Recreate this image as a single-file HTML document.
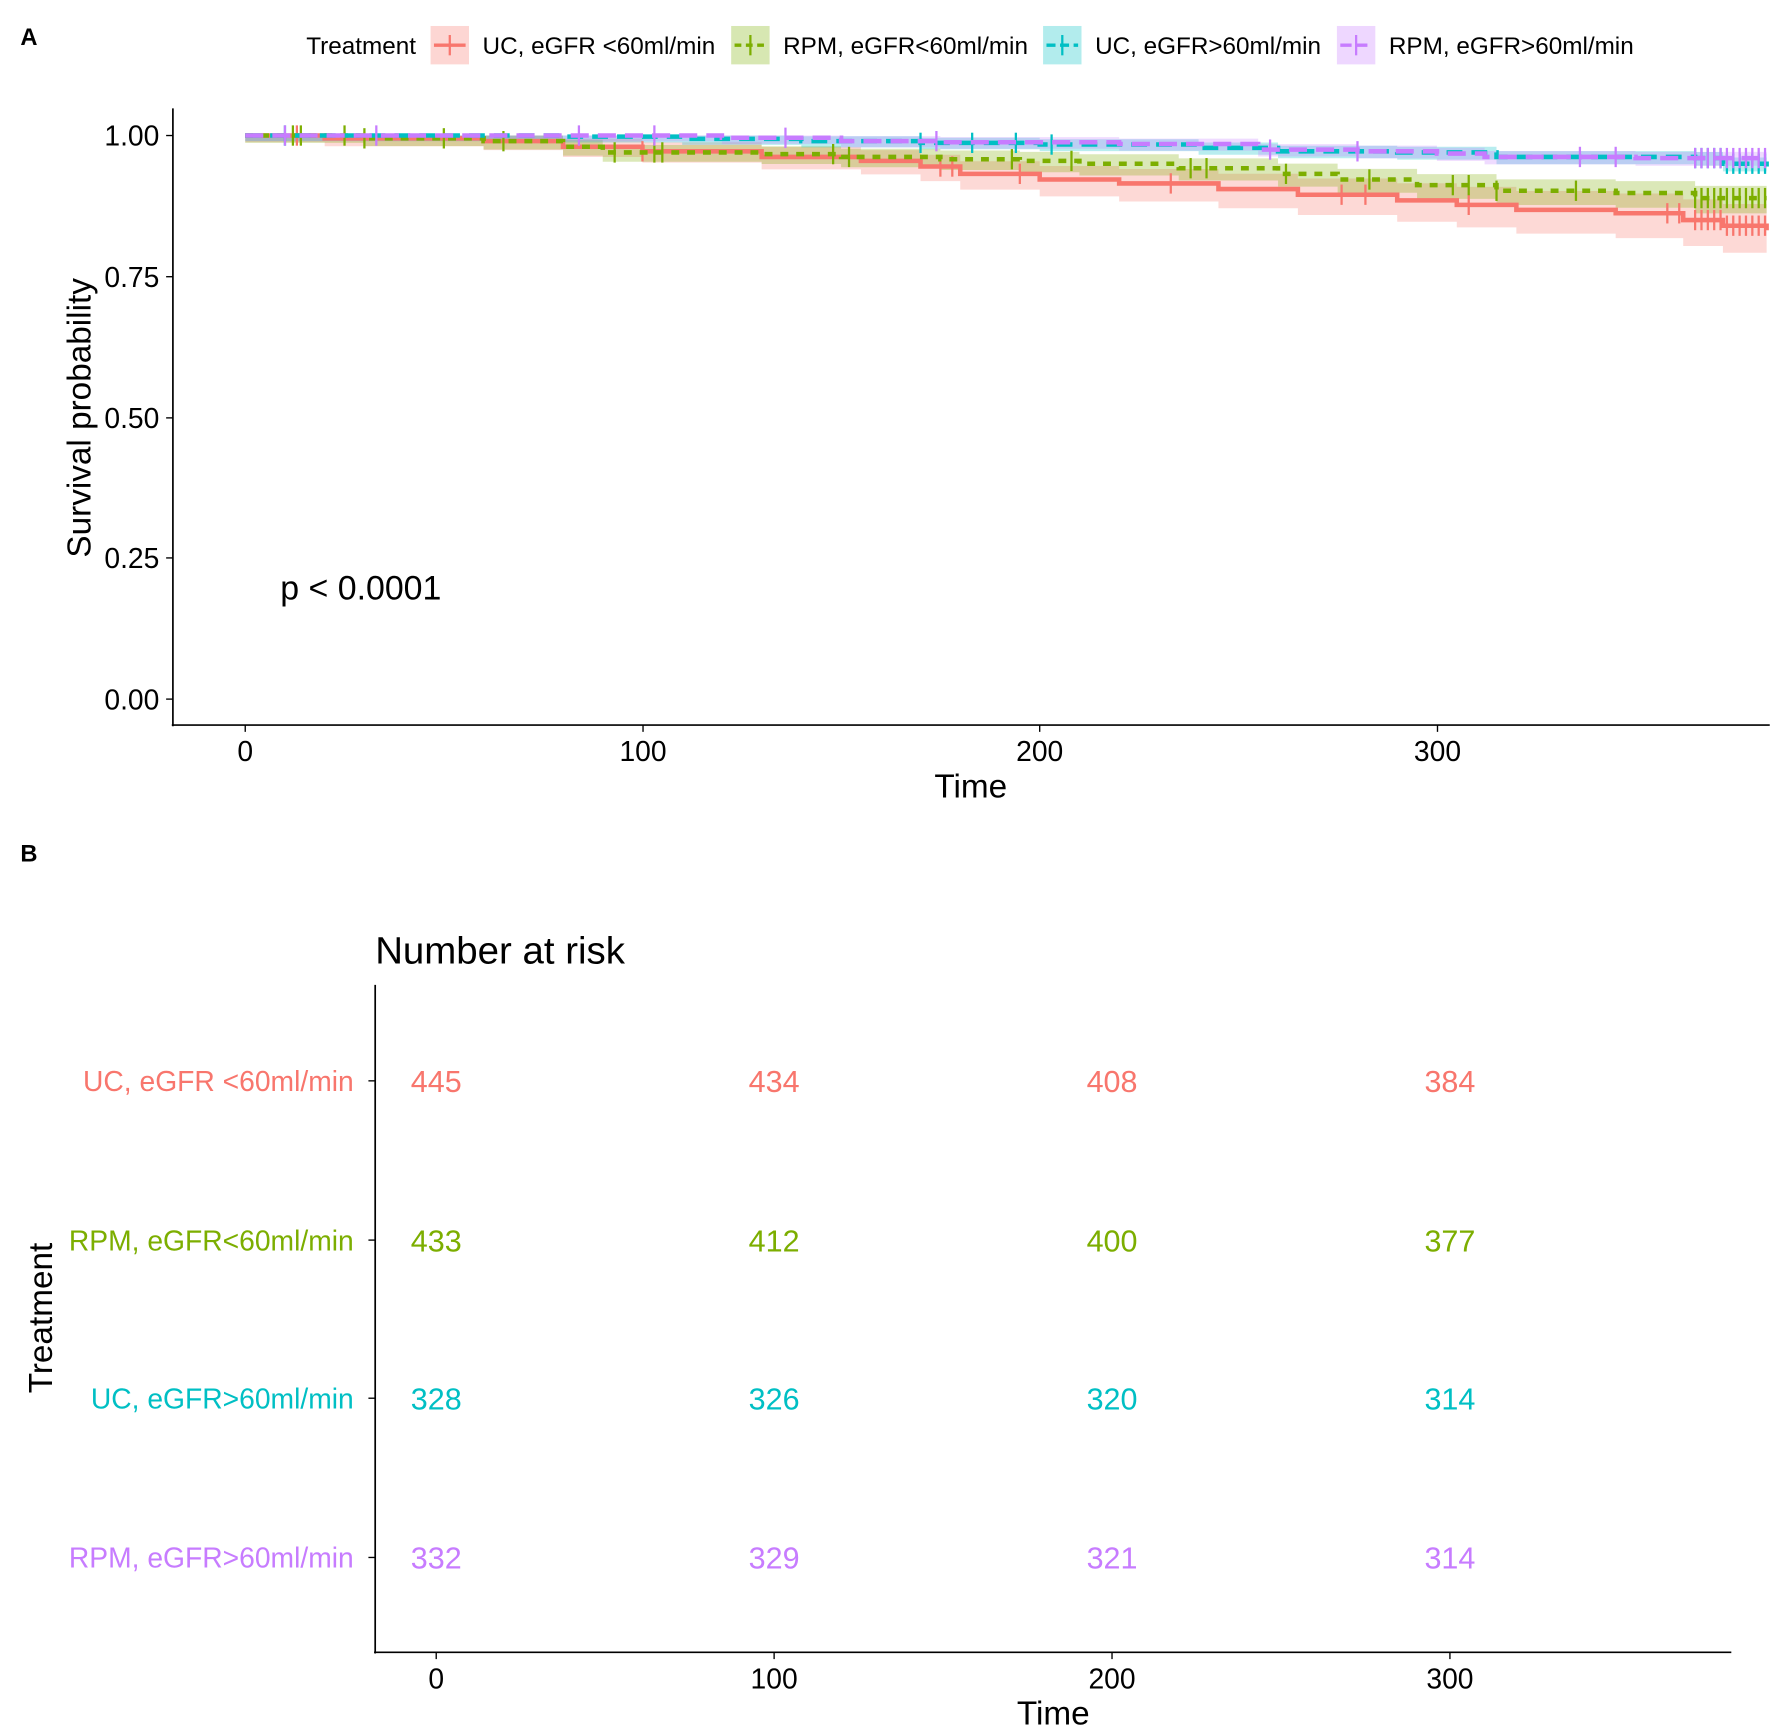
<!DOCTYPE html>
<html><head><meta charset="utf-8"><style>
html,body{margin:0;padding:0;background:#fff;}
svg{display:block;}
text{font-family:"Liberation Sans",sans-serif;}
</style></head><body>
<svg id="s" width="1772" height="1728" viewBox="0 0 1568 1530" preserveAspectRatio="none" xmlns="http://www.w3.org/2000/svg">
<rect width="1568" height="1530" fill="#fff"/>
<text x="18" y="40" font-size="21" font-weight="bold">A</text>
<text x="18" y="763" font-size="21" font-weight="bold">B</text>
<!-- legend -->
<text x="271" y="48" font-size="21.5">Treatment</text>
<rect x="381" y="23" width="34" height="34" fill="#F8766D" opacity="0.3"/><line x1="384" y1="40" x2="412" y2="40" stroke="#F8766D" stroke-width="3"/><line x1="398" y1="31" x2="398" y2="49" stroke="#F8766D" stroke-width="2"/>
<text x="427" y="48" font-size="21.5">UC, eGFR &lt;60ml/min</text>
<rect x="647" y="23" width="34" height="34" fill="#7CAE00" opacity="0.3"/><line x1="650" y1="40" x2="678" y2="40" stroke="#7CAE00" stroke-width="3" stroke-dasharray="6 4"/><line x1="664" y1="31" x2="664" y2="49" stroke="#7CAE00" stroke-width="2"/>
<text x="693" y="48" font-size="21.5">RPM, eGFR&lt;60ml/min</text>
<rect x="923" y="23" width="34" height="34" fill="#00BFC4" opacity="0.3"/><line x1="926" y1="40" x2="954" y2="40" stroke="#00BFC4" stroke-width="3" stroke-dasharray="8 4"/><line x1="940" y1="31" x2="940" y2="49" stroke="#00BFC4" stroke-width="2"/>
<text x="969" y="48" font-size="21.5">UC, eGFR&gt;60ml/min</text>
<rect x="1183" y="23" width="34" height="34" fill="#C77CFF" opacity="0.3"/><line x1="1186" y1="40" x2="1214" y2="40" stroke="#C77CFF" stroke-width="3" stroke-dasharray="10 4"/><line x1="1200" y1="31" x2="1200" y2="49" stroke="#C77CFF" stroke-width="2"/>
<text x="1229" y="48" font-size="21.5">RPM, eGFR&gt;60ml/min</text>
<g id="curves"></g>
<!-- axes A -->
<line x1="153" y1="96" x2="153" y2="643" stroke="#000" stroke-width="1.5"/>
<line x1="152" y1="642" x2="1566" y2="642" stroke="#000" stroke-width="1.5"/>
<g font-size="25" text-anchor="end">
<text x="141" y="129">1.00</text><text x="141" y="254">0.75</text><text x="141" y="379">0.50</text><text x="141" y="503">0.25</text><text x="141" y="628">0.00</text></g>
<g stroke="#000" stroke-width="1.2"><line x1="147" y1="120" x2="153" y2="120"/><line x1="147" y1="245" x2="153" y2="245"/><line x1="147" y1="370" x2="153" y2="370"/><line x1="147" y1="494" x2="153" y2="494"/><line x1="147" y1="619" x2="153" y2="619"/>
<line x1="217" y1="642" x2="217" y2="648"/><line x1="569" y1="642" x2="569" y2="648"/><line x1="920" y1="642" x2="920" y2="648"/><line x1="1272" y1="642" x2="1272" y2="648"/></g>
<g font-size="25" text-anchor="middle"><text x="217" y="674">0</text><text x="569" y="674">100</text><text x="920" y="674">200</text><text x="1272" y="674">300</text></g>
<text x="859" y="706" font-size="29.5" text-anchor="middle">Time</text>
<text transform="translate(80,370) rotate(-90)" font-size="29.5" text-anchor="middle">Survival probability</text>
<text x="248" y="531" font-size="30">p &lt; 0.0001</text>
<!-- B -->
<text x="332" y="853" font-size="34">Number at risk</text>
<line x1="332" y1="872" x2="332" y2="1464" stroke="#000" stroke-width="1.5"/>
<line x1="331" y1="1463" x2="1532" y2="1463" stroke="#000" stroke-width="1.5"/>
<g stroke="#000" stroke-width="1.2"><line x1="326" y1="957" x2="332" y2="957"/><line x1="326" y1="1098" x2="332" y2="1098"/><line x1="326" y1="1238" x2="332" y2="1238"/><line x1="326" y1="1379" x2="332" y2="1379"/>
<line x1="386" y1="1463" x2="386" y2="1469"/><line x1="685" y1="1463" x2="685" y2="1469"/><line x1="984" y1="1463" x2="984" y2="1469"/><line x1="1283" y1="1463" x2="1283" y2="1469"/></g>
<g font-size="25" text-anchor="middle"><text x="386" y="1495">0</text><text x="685" y="1495">100</text><text x="984" y="1495">200</text><text x="1283" y="1495">300</text></g>
<text x="932" y="1527" font-size="29.5" text-anchor="middle">Time</text>
<text transform="translate(46,1167) rotate(-90)" font-size="29.5" text-anchor="middle">Treatment</text>
<g font-size="25" text-anchor="end">
<text x="313" y="966" fill="#F8766D">UC, eGFR &lt;60ml/min</text>
<text x="313" y="1107" fill="#7CAE00">RPM, eGFR&lt;60ml/min</text>
<text x="313" y="1247" fill="#00BFC4">UC, eGFR&gt;60ml/min</text>
<text x="313" y="1388" fill="#C77CFF">RPM, eGFR&gt;60ml/min</text></g>
<g font-size="27" text-anchor="middle">
<g fill="#F8766D"><text x="386" y="967">445</text><text x="685" y="967">434</text><text x="984" y="967">408</text><text x="1283" y="967">384</text></g>
<g fill="#7CAE00"><text x="386" y="1108">433</text><text x="685" y="1108">412</text><text x="984" y="1108">400</text><text x="1283" y="1108">377</text></g>
<g fill="#00BFC4"><text x="386" y="1248">328</text><text x="685" y="1248">326</text><text x="984" y="1248">320</text><text x="1283" y="1248">314</text></g>
<g fill="#C77CFF"><text x="386" y="1389">332</text><text x="685" y="1389">329</text><text x="984" y="1389">321</text><text x="1283" y="1389">314</text></g>
</g>
</svg>
<script>
(function(){
var X=function(t){return 217+3.515*t},Y=function(p){return 120+(1-p)*499};
var S=[
{c:"#F8766D",d:"",w:4,k:[[0,1],[20,.995],[60,.99],[80,.98],[100,.972],[130,.962],[155,.955],[170,.945],[180,.932],[200,.922],[220,.915],[245,.905],[265,.895],[290,.885],[305,.877],[320,.868],[345,.862],[362,.85],[372,.84],[383,.832]],b:[.012,.05],cz:[13,100,175,178,195,233,276,282,308,358,361]},
{c:"#7CAE00",d:"7 7",w:4,k:[[0,1],[30,.995],[60,.99],[80,.98],[90,.97],[130,.967],[150,.962],[175,.958],[195,.955],[210,.95],[235,.942],[260,.932],[275,.922],[295,.912],[315,.902],[345,.898],[365,.889],[383,.889]],b:[.013,.028],cz:[12,14,25,30,50,65,93,103,105,148,152,193,208,238,242,262,283,304,308,315,335]},
{c:"#00BFC4",d:"14 8",w:4,k:[[0,1],[80,.998],[110,.994],[140,.99],[170,.987],[200,.984],[240,.978],[260,.972],[290,.97],[315,.962],[365,.96],[372,.95],[383,.945]],b:[.01,.014],cz:[10,170,183,194,203]},
{c:"#C77CFF",d:"16 8",w:4,k:[[0,1],[80,1],[120,.996],[150,.99],[175,.988],[220,.985],[255,.975],[280,.972],[300,.968],[312,.962],[350,.96],[383,.96]],b:[.01,.014],cz:[10,33,84,103,136,174,258,280,336,345]}
];
var g=document.getElementById('curves'),h='';
function step(k,off){var s='';for(var i=0;i<k.length;i++){var x=X(k[i][0]),y=Y(Math.min(1,k[i][1]+off));if(i==0)s+='M'+x+' '+y;else s+='H'+x+'V'+y;}return s;}
function val(k,t){var v=k[0][1];for(var i=0;i<k.length;i++)if(k[i][0]<=t)v=k[i][1];return v;}
S.forEach(function(s){
  var n=s.k.length,up=[],lo=[];
  var k=s.k;
  for(var i=0;i<n;i++){var frac=i/(n-1);var off=s.b[0]+(s.b[1]-s.b[0])*frac;up.push([k[i][0],Math.min(1,k[i][1]+off*0.8)]);lo.push([k[i][0],k[i][1]-off]);}
  var a=step(up,0);
  var b='';for(var i=n-1;i>=0;i--){var x=X(lo[i][0]),y=Y(lo[i][1]);b+='L'+x+' '+y;if(i>0)b+='L'+X(lo[i][0])+' '+Y(lo[i-1][1]);}
  h+='<path d="'+a+b+'Z" fill="'+s.c+'" fill-opacity="0.28"/>';
});
S.forEach(function(s){
  h+='<path d="'+step(s.k,0)+'" fill="none" stroke="'+s.c+'" stroke-width="'+s.w+'" '+(s.d?'stroke-dasharray="'+s.d+'"':'')+'/>';
  var cz=s.cz.slice();for(var t=365;t<=383;t+=1.6)cz.push(t);
  cz.forEach(function(t){var x=X(t),y=Y(val(s.k,t));h+='<line x1="'+x+'" y1="'+(y-9)+'" x2="'+x+'" y2="'+(y+9)+'" stroke="'+s.c+'" stroke-width="2"/>';});
});
g.innerHTML=h;
})();
</script>
</body></html>
